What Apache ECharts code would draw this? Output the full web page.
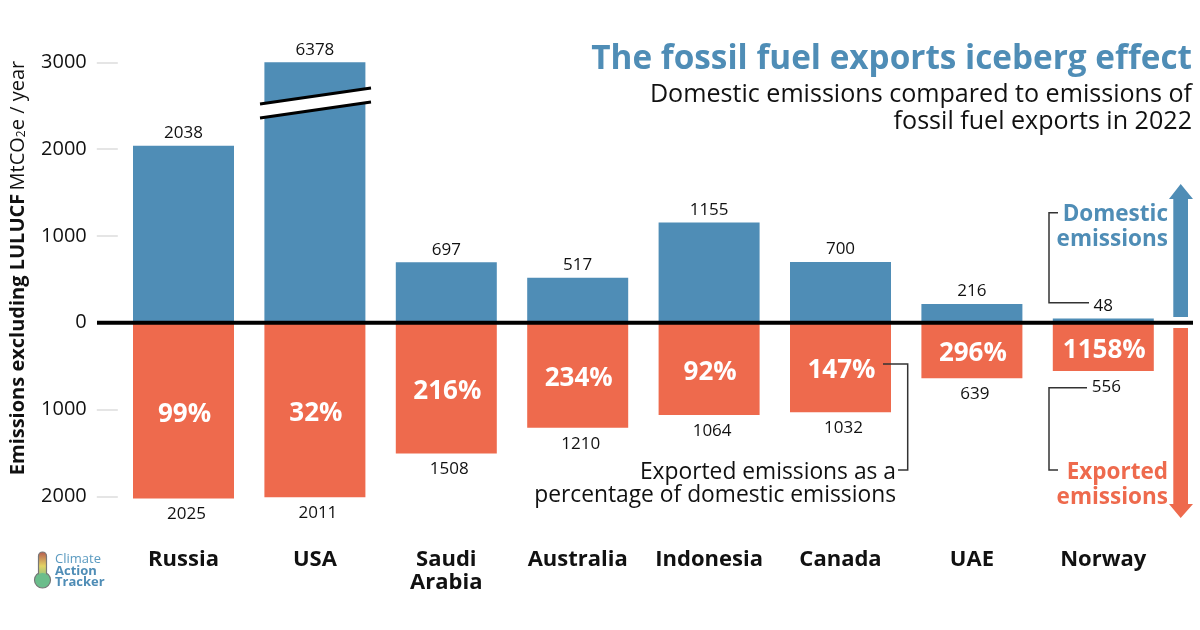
<!DOCTYPE html>
<html>
<head>
<meta charset="utf-8">
<style>html,body{margin:0;padding:0;background:#fff}#main{width:1200px;height:630px}</style>
<script src="https://cdn.jsdelivr.net/npm/echarts@6/dist/echarts.min.js"></script>
</head>
<body>
<div id="main"></div>
<script>
var countries = ["Russia", "USA", "Saudi\nArabia", "Australia", "Indonesia", "Canada", "UAE", "Norway"];
var domestic = [2038, 6378, 697, 517, 1155, 700, 216, 48];
var exported = [-2025, -2011, -1508, -1210, -1064, -1032, -639, -556];
var percentages = [99, 32, 216, 234, 92, 147, 296, 1158];
var yTicks = [3000, 2000, 1000, 0, -1000, -2000];

var BLUE = "#4f8db6";
var RED = "#ee6a4d";
var FONT = "Open Sans";

var chart = echarts.init(document.getElementById("main"), null, {renderer: "canvas"});

var option = {
    animation: false,
    backgroundColor: "#fff",
    textStyle: {fontFamily: FONT},
    title: [
        {
            text: "The fossil fuel exports iceberg effect",
            right: 3, top: 38,
            textStyle: {fontFamily: FONT, fontSize: 33.3, fontWeight: "bold", color: BLUE}
        },
        {
            text: "Domestic emissions compared to emissions of\nfossil fuel exports in 2022",
            left: 1187, top: 76, textAlign: "right",
            textStyle: {fontFamily: FONT, fontSize: 25.1, fontWeight: "normal", color: "#111", lineHeight: 27}
        }
    ],
    grid: {left: 117.8, right: 31, top: 62.3, height: 442.7, containLabel: false},
    xAxis: {
        type: "category",
        data: countries,
        axisLine: {show: false, onZero: false},
        axisTick: {show: false},
        axisLabel: {interval: 0, margin: 43, fontFamily: FONT, fontSize: 22, fontWeight: "bold", color: "#111", lineHeight: 23, verticalAlign: "top"}
    },
    yAxis: {
        type: "value",
        min: -2100,
        max: 3000,
        splitLine: {show: false},
        axisLine: {show: false},
        axisTick: {show: true, length: 21, customValues: yTicks, lineStyle: {color: "#dddddd", width: 1.5}},
        axisLabel: {
            margin: 31,
            customValues: yTicks,
            fontFamily: FONT, fontSize: 20, color: "#111",
            formatter: function (v) { return String(Math.abs(v)); }
        }
    },
    series: [
        {
            name: "Domestic emissions",
            type: "bar",
            data: domestic,
            barWidth: 101,
            barGap: "-100%",
            clip: true,
            itemStyle: {color: BLUE},
            label: {show: true, position: "top", distance: 4, fontFamily: FONT, fontSize: 17, color: "#111"}
        },
        {
            name: "Exported emissions",
            type: "bar",
            data: exported,
            barWidth: 101,
            barGap: "-100%",
            itemStyle: {color: RED},
            label: {
                show: true, position: "bottom", distance: 7.5, offset: [3, 0],
                fontFamily: FONT, fontSize: 17, color: "#111",
                formatter: function (p) { return String(Math.abs(p.value)); }
            }
        },
        {
            name: "Exported as a percentage of domestic",
            type: "bar",
            data: exported,
            barWidth: 101,
            barGap: "-100%",
            itemStyle: {color: "rgba(0,0,0,0)"},
            label: {
                show: true, position: "inside", offset: [1, 3.5],
                fontFamily: FONT, fontSize: 26, fontWeight: "bold", color: "#fff",
                formatter: function (p) { return percentages[p.dataIndex] + "%"; }
            }
        }
    ]
};
chart.setOption(option);

// annotations drawn on top, zero line follows the value axis
var zeroY = chart.convertToPixel({yAxisIndex: 0}, 0);

function bracket(points) {
    return {type: "polyline", shape: {points: points}, style: {stroke: "#333", lineWidth: 1.5, fill: null}, z: 20};
}
function label(x, y, text, size, weight, color, align) {
    return {
        type: "text", x: x, y: y, z: 20,
        style: {text: text, fontFamily: FONT, fontSize: size, fontWeight: weight, fill: color, align: align || "right", verticalAlign: "middle"}
    };
}

chart.setOption({
    graphic: [
        // axis break on the USA bar
        {type: "polygon", shape: {points: [[260, 104], [371, 88], [371, 102], [260, 118]]}, style: {fill: "#fff"}, z: 18},
        {type: "line", shape: {x1: 260, y1: 104, x2: 371, y2: 88}, style: {stroke: "#000", lineWidth: 3}, z: 19},
        {type: "line", shape: {x1: 260, y1: 118, x2: 371, y2: 102}, style: {stroke: "#000", lineWidth: 3}, z: 19},
        // zero line
        {type: "line", shape: {x1: 97, y1: zeroY, x2: 1193, y2: zeroY}, style: {stroke: "#000", lineWidth: 4}, z: 19},
        // side arrows
        {type: "polygon", shape: {points: [[1173.3, 317], [1173.3, 199], [1169, 199], [1180.7, 184], [1193, 199], [1188, 199], [1188, 317]]}, style: {fill: BLUE}, z: 20},
        {type: "polygon", shape: {points: [[1173.3, 328], [1173.3, 504], [1169, 504], [1180.7, 518], [1193, 504], [1188, 504], [1188, 328]]}, style: {fill: RED}, z: 20},
        // leader lines
        bracket([[1058, 212.7], [1049, 212.7], [1049, 302.7], [1089, 302.7]]),
        bracket([[1087, 387.7], [1049, 387.7], [1049, 470], [1058, 470]]),
        bracket([[883, 364], [907.7, 364], [907.7, 470], [898, 470]]),
        // side labels
        label(1168, 215, "Domestic", 22.5, "bold", BLUE),
        label(1168, 240, "emissions", 22.5, "bold", BLUE),
        label(1168, 473, "Exported", 22.5, "bold", RED),
        label(1168, 498, "emissions", 22.5, "bold", RED),
        label(896, 473, "Exported emissions as a", 22.8, "normal", "#111"),
        label(896, 496, "percentage of domestic emissions", 22.8, "normal", "#111"),
        // axis title
        {
            type: "text", x: 18, y: 268, rotation: Math.PI / 2, z: 20,
            style: {
                rich: {
                    b: {fontFamily: FONT, fontSize: 20, fontWeight: "bold", fill: "#111"},
                    n: {fontFamily: FONT, fontSize: 20, fill: "#111"},
                    s: {fontFamily: FONT, fontSize: 12, fill: "#111", verticalAlign: "bottom"}
                },
                text: "{b|Emissions excluding LULUCF} {n|MtCO}{s|2}{n|e / year}",
                align: "center", verticalAlign: "middle"
            }
        },
        // logo
        {type: "circle", shape: {cx: 42.5, cy: 580, r: 8}, style: {fill: "#6bbd8b", stroke: "#777", lineWidth: 1.2}, z: 20},
        {
            type: "rect", shape: {x: 38.5, y: 552, width: 8, height: 28, r: 4},
            style: {
                stroke: "#777", lineWidth: 1.2,
                fill: new echarts.graphic.LinearGradient(0, 0, 0, 1, [
                    {offset: 0, color: "#b5584f"},
                    {offset: 0.5, color: "#e3d365"},
                    {offset: 1, color: "#6bbd8b"}
                ])
            },
            z: 21
        },
        {type: "circle", shape: {cx: 42.5, cy: 580, r: 7}, style: {fill: "#6bbd8b"}, z: 22},
        label(55, 559, "Climate", 13, "normal", "#5a9ac0", "left"),
        label(55, 571, "Action", 13, "bold", BLUE, "left"),
        label(55, 582.5, "Tracker", 13, "bold", BLUE, "left")
    ]
});
</script>
</body>
</html>
